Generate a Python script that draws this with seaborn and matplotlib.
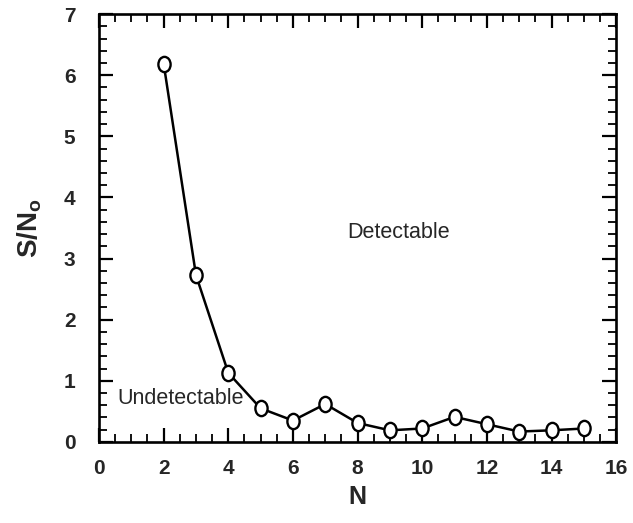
import matplotlib
matplotlib.use("Agg")
import matplotlib.pyplot as plt
import seaborn as sns
import pandas as pd
from matplotlib.ticker import MultipleLocator
from matplotlib.path import Path
from matplotlib.transforms import Affine2D

N = [2, 3, 4, 5, 6, 7, 8, 9, 10, 11, 12, 13, 14, 15]
snr = [6.19, 2.73, 1.13, 0.55, 0.35, 0.62, 0.31, 0.19, 0.22, 0.41, 0.29, 0.17, 0.19, 0.22]
x_ticks = [0, 2, 4, 6, 8, 10, 12, 14, 16]
y_ticks = [0, 1, 2, 3, 4, 5, 6, 7]

sns.set_theme(style="ticks")
plt.rcParams['font.family'] = ['Liberation Sans', 'DejaVu Sans']
plt.rcParams['mathtext.fontset'] = 'custom'
plt.rcParams['mathtext.rm'] = 'Liberation Sans'
plt.rcParams['mathtext.bf'] = 'Liberation Sans:bold'

df = pd.DataFrame({"N": N, "S/N0": snr})

# slightly tall elliptical open marker
ellipse = Affine2D().scale(0.8, 1.0).transform_path(Path.unit_circle())

fig = plt.figure(figsize=(6.33, 5.23), dpi=100)
ax = fig.add_axes([0.1564, 0.155, 0.817, 0.818])
sns.lineplot(data=df, x="N", y="S/N0", ax=ax, color="black", linewidth=1.8,
             marker=ellipse, markersize=11, markerfacecolor="white",
             markeredgecolor="black", markeredgewidth=1.7)

ax.set_xlim(0, 16)
ax.set_ylim(0, 7)
ax.set_xticks(x_ticks)
ax.set_yticks(y_ticks)
ax.xaxis.set_minor_locator(MultipleLocator(0.5))
ax.yaxis.set_minor_locator(MultipleLocator(0.2))
ax.tick_params(which="both", direction="in", top=True, right=True, color="black")
ax.tick_params(which="major", length=10, width=1.6, labelsize=15)
ax.tick_params(which="minor", length=6, width=1.3)
ax.tick_params(axis="x", which="major", pad=12)
ax.tick_params(axis="y", which="major", pad=17)
for lab in ax.get_xticklabels() + ax.get_yticklabels():
    lab.set_fontweight("bold")
for s in ax.spines.values():
    s.set_linewidth(1.9)
    s.set_color("black")

ax.set_xlabel("N", fontsize=18, labelpad=5, fontweight="bold")
ax.set_ylabel(r"S/N$_\mathregular{o}$", fontsize=20, labelpad=14, fontweight="bold")

ax.text(9.27, 3.43, "Detectable", fontsize=15.5, ha="center", va="center")
ax.text(2.52, 0.71, "Undetectable", fontsize=15.5, ha="center", va="center")

fig.savefig("out.png", dpi=100)
